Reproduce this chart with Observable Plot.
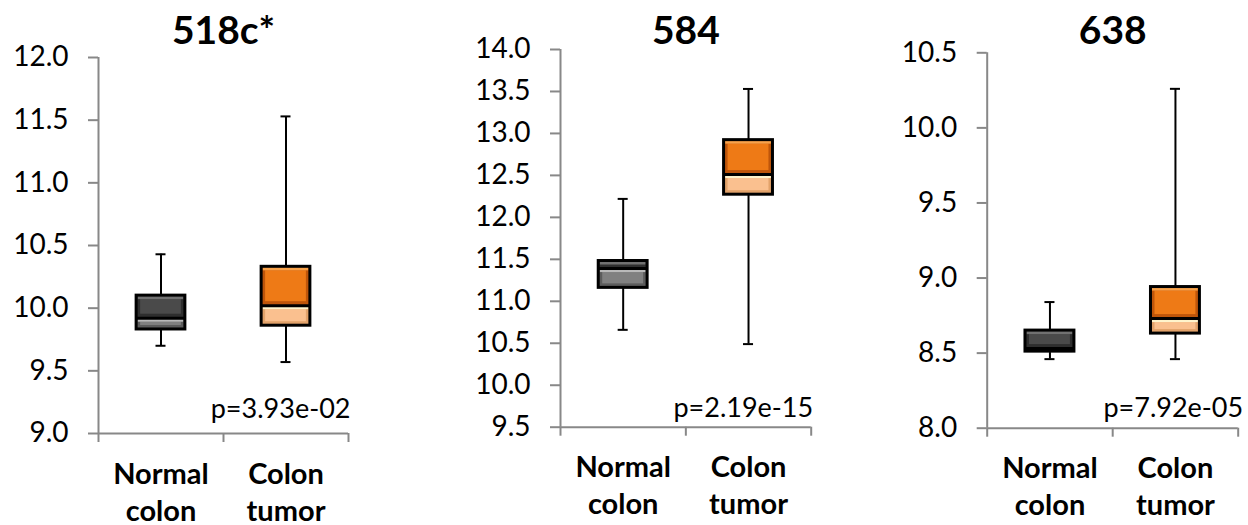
<!DOCTYPE html>
<html>
<head>
<meta charset="utf-8">
<script src="https://cdn.jsdelivr.net/npm/d3@7"></script>
<script src="https://cdn.jsdelivr.net/npm/@observablehq/plot@0.6"></script>
<style>
  html, body { margin: 0; padding: 0; background: #fff; }
  #wrap { position: relative; width: 1248px; height: 525px; overflow: hidden; font-family: Lato, sans-serif; }
  #wrap svg { position: absolute; top: 0; }
</style>
</head>
<body>
<div id="wrap"></div>
<script>
// ---- data ----
const panelTitles = ["518c*", "584", "638"];
const pValues = ["p=3.93e-02", "p=2.19e-15", "p=7.92e-05"];
const categories = ["Normal colon", "Colon tumor"];
const labelLine1 = ["Normal", "Colon"];
const labelLine2 = ["colon", "tumor"];
const yDomains = [[9.0, 12.0], [9.5, 14.0], [8.0, 10.5]];
// per panel: [Normal colon, Colon tumor]
const whiskerLow  = [[9.70, 9.57], [10.66, 10.49], [8.46, 8.46]];
const quartile1   = [[9.83, 9.86], [11.16, 12.27], [8.51, 8.63]];
const medians     = [[9.92, 10.02], [11.39, 12.51], [8.53, 8.73]];
const quartile3   = [[10.10, 10.33], [11.48, 12.92], [8.65, 8.94]];
const whiskerHigh = [[10.43, 11.53], [12.22, 13.53], [8.84, 10.26]];

// ---- layout / style ----
const layout = [
  {left: 0,   width: 420, mL: 98,    mR: 72,   mT: 57,   mB: 92,   titleDy: -13.5, pDx: 2, pDy: -16},
  {left: 420, width: 420, mL: 140,   mR: 29.3, mT: 49,   mB: 98.3, titleDy: -5.5,  pDx: 2, pDy: -10},
  {left: 840, width: 408, mL: 146.7, mR: 10.3, mT: 52.3, mB: 97.3, titleDy: -8.8,  pDx: 5, pDy: -11}
];
const palette = [
  {upper: {edge: "#2E2E2E", mid: "#4A4A4A", top: "#717171"},
   lower: {edge: "#5C5C5C", mid: "#808080", top: "#B9B9B9"}},
  {upper: {edge: "#BE550A", mid: "#EE7A16", top: "#F9A24A"},
   lower: {edge: "#E2A26A", mid: "#FAC08F", top: "#FFF4CC"}}
];
const halfW = 0.195, capW = 0.04, bev = 4;
const axisGray = "#888888";

const wrap = document.getElementById("wrap");

panelTitles.forEach((title, p) => {
  const L = layout[p];
  const [lo, hi] = yDomains[p];
  const rows = categories.map((c, i) => ({
    i, cat: c,
    low: whiskerLow[p][i], q1: quartile1[p][i], med: medians[p][i],
    q3: quartile3[p][i], high: whiskerHigh[p][i]
  }));
  const xc = d => d.i + 0.5;
  const partMarks = (which) => {
    const y1 = which === "upper" ? (d => d.med) : (d => d.q1);
    const y2 = which === "upper" ? (d => d.q3) : (d => d.med);
    const col = (key) => (d) => palette[d.i][which][key];
    return [
      Plot.rect(rows, {x1: d => xc(d) - halfW, x2: d => xc(d) + halfW, y1, y2, fill: col("edge")}),
      Plot.rect(rows, {x1: d => xc(d) - halfW, x2: d => xc(d) + halfW, y1, y2, fill: col("mid"),
        insetTop: bev, insetBottom: bev, insetLeft: bev, insetRight: bev}),
      Plot.rect(rows, {x1: d => xc(d) - halfW, x2: d => xc(d) + halfW, y1: y2, y2: y2, fill: col("top"),
        insetBottom: -bev, insetLeft: 1.5, insetRight: 1.5})
    ];
  };
  const ticks = d3.range(lo, hi + 1e-9, 0.5);
  const svg = Plot.plot({
    width: L.width, height: 525,
    marginLeft: L.mL, marginRight: L.mR, marginTop: L.mT, marginBottom: L.mB,
    style: {fontFamily: "Lato, sans-serif", background: "transparent", overflow: "visible", color: "black"},
    x: {domain: [0, 2], axis: null},
    y: {domain: [lo, hi], axis: null},
    marks: [
      Plot.axisY({ticks, tickFormat: d3.format(".1f"), tickSize: 10, tickPadding: 20,
        fontSize: 28, stroke: axisGray, strokeWidth: 2, fill: "black"}),
      Plot.axisX({ticks: [0, 1, 2], tickFormat: () => "", tickSize: 9, stroke: axisGray, strokeWidth: 2}),
      Plot.ruleX([0], {stroke: axisGray, strokeWidth: 2}),
      Plot.ruleY([lo], {stroke: axisGray, strokeWidth: 2}),
      // whiskers
      Plot.ruleX(rows, {x: xc, y1: d => d.low, y2: d => d.q1, stroke: "black", strokeWidth: 2}),
      Plot.ruleX(rows, {x: xc, y1: d => d.q3, y2: d => d.high, stroke: "black", strokeWidth: 2}),
      Plot.ruleY(rows, {y: d => d.low, x1: d => xc(d) - capW, x2: d => xc(d) + capW, stroke: "black", strokeWidth: 2}),
      Plot.ruleY(rows, {y: d => d.high, x1: d => xc(d) - capW, x2: d => xc(d) + capW, stroke: "black", strokeWidth: 2}),
      // boxes
      ...partMarks("upper"),
      ...partMarks("lower"),
      Plot.rect(rows, {x1: d => xc(d) - halfW, x2: d => xc(d) + halfW, y1: d => d.q1, y2: d => d.q3,
        fill: "none", stroke: "black", strokeWidth: 3}),
      Plot.ruleY(rows, {y: d => d.med, x1: d => xc(d) - halfW, x2: d => xc(d) + halfW, stroke: "black", strokeWidth: 3}),
      // category labels
      Plot.text(rows, {x: xc, y: () => lo, text: d => labelLine1[d.i], lineAnchor: "bottom", dy: 50,
        fontSize: 29, fontWeight: "bold", fill: "black"}),
      Plot.text(rows, {x: xc, y: () => lo, text: d => labelLine2[d.i], lineAnchor: "bottom", dy: 87,
        fontSize: 29, fontWeight: "bold", fill: "black"}),
      // title
      Plot.text([title], {x: () => 1, y: () => hi, text: d => d, lineAnchor: "bottom", dy: L.titleDy,
        fontSize: 39, fontWeight: "bold", fill: "black"}),
      // p-value
      Plot.text([pValues[p]], {x: () => 2, y: () => lo, text: d => d, textAnchor: "end", lineAnchor: "bottom",
        dx: L.pDx, dy: L.pDy, fontSize: 27, fill: "black"})
    ]
  });
  svg.style.left = L.left + "px";
  wrap.appendChild(svg);
});
</script>
</body>
</html>
